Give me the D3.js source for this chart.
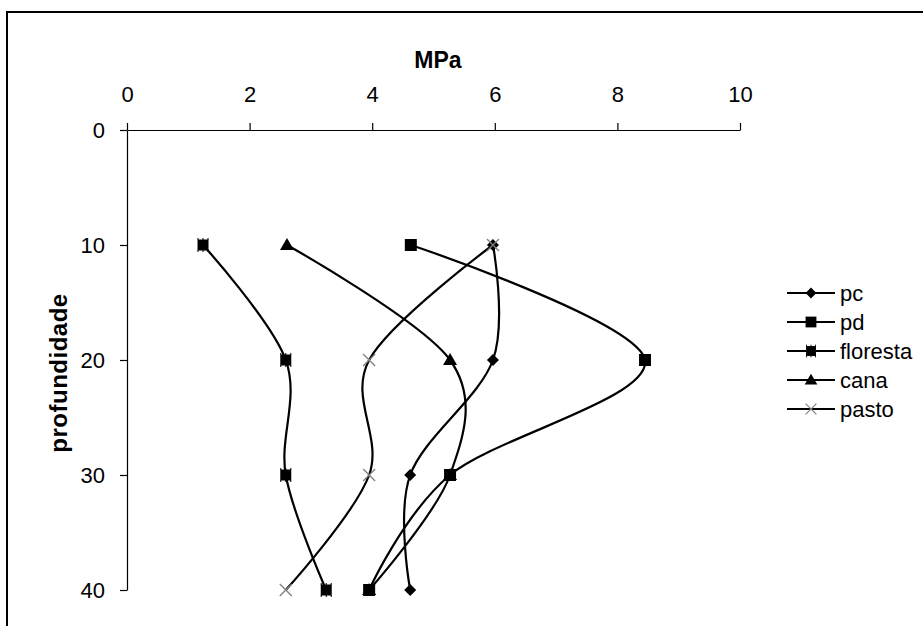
<!DOCTYPE html>
<html>
<head>
<meta charset="utf-8">
<script src="https://cdn.jsdelivr.net/npm/d3@7"></script>
<style>
  body { margin: 0; background: #fff; }
  svg { font-family: "Liberation Sans", Arial, sans-serif; }
</style>
</head>
<body>
<svg id="chart"></svg>
<script>
// depth (cm) and resistance (MPa) per treatment
const depths = [10, 20, 30, 40];
const pc = [5.97, 5.97, 4.62, 4.62];
const pd = [4.63, 8.45, 5.27, 3.95];
const floresta = [1.24, 2.59, 2.59, 3.25];
const cana = [2.61, 5.27, 5.27, 3.95];
const pasto = [5.97, 3.95, 3.95, 2.59];

const seriesNames = ["pc", "pd", "floresta", "cana", "pasto"];
const seriesValues = [pc, pd, floresta, cana, pasto];
const markerTypes = ["diamond", "square", "star", "triangle", "cross"];

const xTicks = [0, 2, 4, 6, 8, 10];
const yTicks = [0, 10, 20, 30, 40];

const width = 923, height = 626;
const marginLeft = 127, marginTop = 130;
const plotRight = 740, plotBottom = 590;

const svg = d3.select("#chart")
    .attr("width", width)
    .attr("height", height)
    .attr("viewBox", [0, 0, width, height]);

// outer chart border (runs off the right/bottom of the picture)
svg.append("rect")
    .attr("x", 7).attr("y", 12)
    .attr("width", 940).attr("height", 640)
    .attr("fill", "none")
    .attr("stroke", "#000")
    .attr("stroke-width", 2);

const x = d3.scaleLinear().domain([0, 10]).range([marginLeft, plotRight]);
const y = d3.scaleLinear().domain([0, 40]).range([marginTop, plotBottom]);

const xAxis = d3.axisTop(x).tickValues(xTicks).tickSize(7).tickPadding(21).tickSizeOuter(0);
const yAxis = d3.axisLeft(y).tickValues(yTicks).tickSize(7).tickPadding(15).tickSizeOuter(0);

svg.append("g")
    .attr("transform", `translate(0,${marginTop})`)
    .call(xAxis)
    .call(g => g.select(".domain").attr("stroke-width", 1.2))
    .call(g => g.selectAll(".tick line").attr("stroke-width", 1.2))
    .call(g => g.selectAll(".tick text")
        .attr("font-size", 22)
        .attr("fill", "#000"));

svg.append("g")
    .attr("transform", `translate(${marginLeft},0)`)
    .call(yAxis)
    .call(g => g.select(".domain").attr("stroke-width", 1.2))
    .call(g => g.selectAll(".tick line").attr("stroke-width", 1.2))
    .call(g => g.selectAll(".tick text")
        .attr("font-size", 22)
        .attr("fill", "#000"));

svg.append("text")
    .attr("x", 438)
    .attr("y", 68)
    .attr("text-anchor", "middle")
    .attr("font-size", 23)
    .attr("font-weight", "bold")
    .text("MPa");

svg.append("text")
    .attr("transform", "translate(67,373) rotate(-90)")
    .attr("text-anchor", "middle")
    .attr("font-size", 24)
    .attr("font-weight", "bold")
    .attr("letter-spacing", 0.5)
    .text("profundidade");

// marker drawing
function drawMarker(g, type, cx, cy, s = 1) {
  const m = g.append("g").attr("transform", `translate(${cx},${cy}) scale(${s})`);
  if (type === "diamond") {
    m.append("path").attr("d", "M0,-6L6,0L0,6L-6,0Z").attr("fill", "#000");
  } else if (type === "square") {
    m.append("rect").attr("x", -6).attr("y", -6).attr("width", 12).attr("height", 12).attr("fill", "#000");
  } else if (type === "star") {
    m.append("path").attr("d", "M-5,-7V7M0,-7V7M5,-7V7")
        .attr("stroke", "#000").attr("stroke-width", 1).attr("stroke-dasharray", "2,10");
    m.append("rect").attr("x", -5.5).attr("y", -5.5).attr("width", 11).attr("height", 11).attr("fill", "#000");
  } else if (type === "triangle") {
    m.append("path").attr("d", "M0,-7L7,5L-7,5Z").attr("fill", "#000");
  } else if (type === "cross") {
    m.append("path").attr("d", "M-6,-6L6,6M6,-6L-6,6")
        .attr("stroke", "#808080").attr("stroke-width", 1.3).attr("fill", "none");
  }
}

const line = d3.line()
    .curve(d3.curveCatmullRom.alpha(0))
    .x(d => x(d[0]))
    .y(d => y(d[1]));

const plot = svg.append("g");
seriesValues.forEach((vals, k) => {
  const pts = vals.map((v, i) => [v, depths[i]]);
  plot.append("path")
      .attr("d", line(pts))
      .attr("fill", "none")
      .attr("stroke", "#000")
      .attr("stroke-width", 2.2);
});
seriesValues.forEach((vals, k) => {
  vals.forEach((v, i) => drawMarker(plot, markerTypes[k], x(v), y(depths[i])));
});

// legend
const legend = svg.append("g").attr("transform", "translate(787,293)");
seriesNames.forEach((name, k) => {
  const row = legend.append("g").attr("transform", `translate(0,${k * 29})`);
  row.append("line").attr("x1", 0).attr("x2", 48).attr("stroke", "#000").attr("stroke-width", 2);
  drawMarker(row, markerTypes[k], 24, 0, 0.9);
  row.append("text")
      .attr("x", 53).attr("y", 0).attr("dy", "0.35em")
      .attr("font-size", 22)
      .text(name);
});
</script>
</body>
</html>
